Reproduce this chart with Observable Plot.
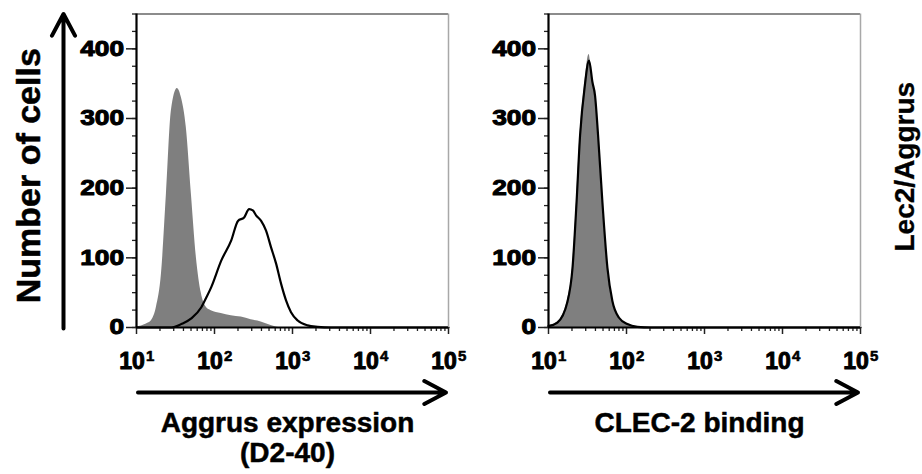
<!DOCTYPE html>
<html>
<head>
<meta charset="utf-8">
<script src="https://cdn.jsdelivr.net/npm/d3@7"></script>
<script src="https://cdn.jsdelivr.net/npm/@observablehq/plot@0.6"></script>
<style>
  html, body { margin: 0; padding: 0; background: #fff; }
  #chart { width: 922px; height: 474px; }
</style>
</head>
<body>
<div id="chart"></div>
<script>
// ---------- data ----------
const panels = ["Aggrus", "CLEC-2"];
const xLabels = ["Aggrus expression", "CLEC-2 binding"];
const xLabelSecondLine = "(D2-40)";
const yLabel = "Number of cells";
const sideLabel = "Lec2/Aggrus";

const xDomain = [10, 100000];
const yDomain = [0, 450];
const yMajorTicks = [0, 100, 200, 300, 400];
const xMajorTicks = [10, 100, 1000, 10000, 100000];
const xTickBase = "10";
const xTickExponents = ["1", "2", "3", "4", "5"];

// left panel: control (gray filled)
const leftGrayX = [10, 13.4, 15.6, 18, 20.9, 24.2, 28, 33.4, 37.6, 43.5, 50.5, 58.5, 67.8, 78.5, 90.9, 122, 164, 220, 295, 396, 531, 713, 100000];
const leftGrayY = [1, 5, 10, 29, 77, 192, 311, 343, 330, 287, 192, 101, 49, 29, 24, 20, 17, 15, 11, 8, 3, 0, 0];
// left panel: D2-40 stained (open black line)
const leftOpenX = [10, 28, 37.6, 50.5, 67.8, 78.5, 90.9, 122, 164, 200, 240, 278, 310, 341, 396, 458, 531, 615, 713, 826, 957, 1165, 1563, 2099, 3090, 100000];
const leftOpenY = [0, 0, 5, 13, 29, 43, 58, 96, 125, 153, 158, 170, 168, 161, 153, 139, 115, 92, 63, 39, 22, 10, 3, 1, 0, 0];
// right panel: control (gray filled)
const rightGrayX = [10, 13, 17.5, 20.3, 22.9, 25.4, 29.2, 33.1, 36.6, 39.5, 43.2, 49.1, 56.9, 65.9, 80.2, 102.6, 138, 204, 100000];
const rightGrayY = [3, 8, 39, 87, 182, 278, 350, 392, 354, 335, 278, 182, 87, 39, 15, 5, 1, 0, 0];
// right panel: CLEC-2 binding (open black line)
const rightOpenX = [10, 13, 17.5, 20.3, 22.9, 25.4, 29.2, 33.1, 36.6, 39.5, 43.2, 49.1, 56.9, 65.9, 80.2, 102.6, 138, 204, 100000];
const rightOpenY = [2, 7, 37, 85, 180, 276, 347, 383, 352, 333, 276, 180, 86, 38, 14, 5, 1, 0, 0];

// ---------- tables ----------
const rows = (panel, xs, ys) => xs.map((x, i) => ({panel, x, y: ys[i]}));
const grayRows = [...rows(panels[0], leftGrayX, leftGrayY), ...rows(panels[1], rightGrayX, rightGrayY)];
const openRows = [...rows(panels[0], leftOpenX, leftOpenY), ...rows(panels[1], rightOpenX, rightOpenY)];

const yMinorTicks = d3.range(yDomain[0], yDomain[1] + 1, 25);
const xMinorTicks = [];
for (const d of xMajorTicks.slice(0, -1)) for (let k = 2; k <= 9; k++) xMinorTicks.push(d * k);

const labelRows = panels.map((p, i) => ({panel: p, label: xLabels[i]}));

const font = "'Liberation Sans', Arial, Helvetica, sans-serif";
const bold = {fontWeight: "bold", fill: "#000", stroke: "#000", strokeWidth: 0.6};

const chart = Plot.plot({
  width: 922,
  height: 474,
  marginLeft: 135,
  marginRight: 62,
  marginTop: 13.5,
  marginBottom: 147,
  style: {fontFamily: font, fontWeight: "bold", fontSize: "22px", background: "#fff", color: "#000", overflow: "visible"},
  fx: {domain: panels, paddingInner: 0.243, paddingOuter: 0, axis: null, label: null},
  x: {type: "log", domain: xDomain, axis: null},
  y: {domain: yDomain, axis: null},
  marks: [
    Plot.areaY(grayRows, {fx: "panel", x: "x", y: "y", fill: "#7f7f7f", curve: "monotone-x"}),
    Plot.lineY(openRows, {fx: "panel", x: "x", y: "y", stroke: "#000", strokeWidth: 2.2, curve: "monotone-x"}),
    // frame (top, right)
    Plot.ruleY([yDomain[1]], {stroke: "#666", strokeWidth: 1.5}),
    Plot.ruleX([xDomain[1]], {stroke: "#a8a8a8", strokeWidth: 1.5}),
    // axes
    Plot.axisY({ticks: yMinorTicks, tickSize: 4, tickFormat: () => "", label: null, facetAnchor: null, strokeWidth: 1.3, stroke: "#222"}),
    Plot.axisY({ticks: yMajorTicks, tickSize: 10, tickPadding: 2.5, fontSize: 21.5, fontWeight: "bold", textStroke: "#000", textStrokeWidth: 1, textStrokeOpacity: 1, label: null, facetAnchor: null, strokeWidth: 1.5, stroke: "#222"}),
    Plot.axisX({ticks: xMinorTicks, tickSize: 4, tickFormat: () => "", label: null, strokeWidth: 1.3, stroke: "#222"}),
    Plot.axisX({ticks: xMajorTicks, tickSize: 7, tickFormat: () => "", label: null, strokeWidth: 1.5, stroke: "#222"}),
    Plot.ruleY([0], {stroke: "#000", strokeWidth: 2.2}),
    Plot.ruleX([xDomain[0]], {stroke: "#000", strokeWidth: 2.2}),
    // x tick labels 10^k
    Plot.text(xMajorTicks, {x: d => d, text: () => xTickBase, frameAnchor: "bottom", lineAnchor: "bottom", textAnchor: "middle", dx: -4.5, dy: 41, fontSize: 23, ...bold, strokeWidth: 1}),
    Plot.text(xMajorTicks, {x: d => d, text: (d, i) => xTickExponents[i], frameAnchor: "bottom", lineAnchor: "bottom", textAnchor: "start", dx: 9.5, dy: 33, fontSize: 15, ...bold, strokeWidth: 0.6}),
    // arrows
    Plot.arrow(panels, {fx: d => d, x1: xDomain[0], x2: xDomain[1], y1: yDomain[0], y2: yDomain[0], dy: 65, stroke: "#000", strokeWidth: 4, headLength: 9.2, headAngle: 56, insetStart: 1.5, insetEnd: 2.5}),
    Plot.arrow([panels[0]], {fx: d => d, x1: xDomain[0], x2: xDomain[0], y1: yDomain[0], y2: yDomain[1], dx: -73, stroke: "#000", strokeWidth: 4, headLength: 9.2, headAngle: 56, insetStart: -1, insetEnd: 0}),
    // axis titles
    Plot.text(labelRows, {fx: "panel", text: "label", frameAnchor: "bottom", lineAnchor: "bottom", textAnchor: "middle", dx: -5, dy: 104, fontSize: 28, ...bold, strokeWidth: 0.5}),
    Plot.text([panels[0]], {fx: d => d, text: () => xLabelSecondLine, frameAnchor: "bottom", lineAnchor: "bottom", textAnchor: "middle", dx: -5, dy: 134, fontSize: 28, ...bold, strokeWidth: 0.5}),
    Plot.text([panels[0]], {fx: d => d, text: () => yLabel, frameAnchor: "left", lineAnchor: "bottom", textAnchor: "middle", rotate: -90, dx: -97, dy: 5, fontSize: 34, ...bold, strokeWidth: 0.5}),
    Plot.text([panels[1]], {fx: d => d, text: () => sideLabel, frameAnchor: "right", lineAnchor: "bottom", textAnchor: "middle", rotate: -90, dx: 53, dy: -4, fontSize: 28, ...bold, strokeWidth: 0.3})
  ]
});

// widen the y tick labels like the original's stretched digits
d3.select(chart).selectAll("g[aria-label='y-axis tick label'] text").each(function () {
  const t = this.textContent || "";
  if (t.length) {
    this.setAttribute("textLength", String(t.length * 14.6));
    this.setAttribute("lengthAdjust", "spacingAndGlyphs");
  }
});

document.getElementById("chart").appendChild(chart);
</script>
</body>
</html>
